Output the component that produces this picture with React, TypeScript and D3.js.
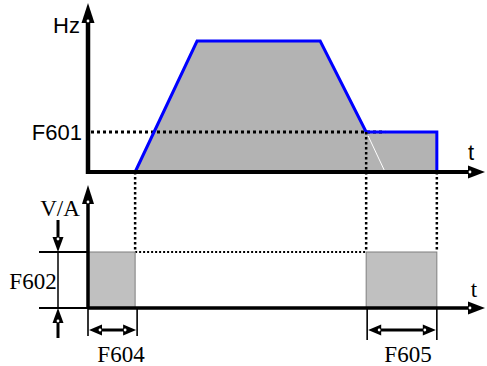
import React from "react";
import * as d3 from "d3";

// ---- data ----
const profileT = [12.4, 28.7, 61.1, 73.2, 91.8, 91.8];
const profileF = [0, 50, 50, 15.3, 15.3, 0];
const F601 = 15.3;
const brakeStart = [0, 73.2];
const brakeEnd = [12.4, 91.8];
const brakeLevel = [1, 1];
const brakeNames = ["F604", "F605"];
const topLabels = { y: "Hz", x: "t", level: "F601" };
const bottomLabels = { y: "V/A", x: "t", level: "F602" };

const W = 487;
const H = 366;

const x = d3.scaleLinear().domain([0, 100]).range([88, 468]);
const yTop = d3.scaleLinear().domain([0, 50]).range([172, 41]);
const yBot = d3.scaleLinear().domain([0, 1]).range([308, 252]);

const sans = "'Liberation Sans', Arial, sans-serif";
const serif = "'Liberation Serif', 'Times New Roman', serif";

function ArrowHead({ tx, ty, dir, len = 17, half = 6.5 }: { tx: number; ty: number; dir: "up" | "down" | "left" | "right"; len?: number; half?: number }) {
  let pts: [number, number][] = [];
  let dot: [number, number] = [tx, ty];
  if (dir === "right") { pts = [[tx, ty], [tx - len, ty - half], [tx - len, ty + half]]; dot = [tx - len + 2, ty]; }
  if (dir === "left") { pts = [[tx, ty], [tx + len, ty - half], [tx + len, ty + half]]; dot = [tx + len - 2, ty]; }
  if (dir === "up") { pts = [[tx, ty], [tx - half, ty + len], [tx + half, ty + len]]; dot = [tx, ty + len - 2]; }
  if (dir === "down") { pts = [[tx, ty], [tx - half, ty - len], [tx + half, ty - len]]; dot = [tx, ty - len + 2]; }
  return (
    <g>
      <polygon points={pts.map((p) => p.join(",")).join(" ")} fill="#000" />
      <circle cx={dot[0]} cy={dot[1]} r={1.4} fill="#fff" />
    </g>
  );
}

export default function App() {
  const pts = profileT.map((t, i) => [t, profileF[i]] as [number, number]);
  const area = d3.area<[number, number]>().x((d) => x(d[0])).y0(yTop(0)).y1((d) => yTop(d[1]));
  const line = d3.line<[number, number]>().x((d) => x(d[0])).y((d) => yTop(d[1]));
  const y0 = yTop(0);
  const yF = yTop(F601);
  const b0 = yBot(0);
  const b1 = yBot(1);
  const x0 = x(0);
  const xRun = x(profileT[0]);
  const xBrake = x(profileT[3]);
  const xStop = x(profileT[4]);

  return (
    <svg width={W} height={H} style={{ position: "absolute", left: 0, top: 0, background: "#fff" }}>
      {/* top chart fill */}
      <path d={area(pts) || ""} fill="#b3b3b3" />
      {/* faint white diagonal artifact */}
      <line x1={xBrake + 2} y1={yF + 4} x2={xBrake + 18} y2={y0 - 2} stroke="#fff" strokeWidth={1} />
      {/* F601 dotted */}
      <line x1={x0 + 3} y1={yF} x2={xBrake + 19} y2={yF} stroke="#000" strokeWidth={3} strokeDasharray="3 3" />
      {/* profile line */}
      <path d={line(pts) || ""} fill="none" stroke="#0000ff" strokeWidth={3} strokeLinejoin="miter" />

      {/* vertical dotted connectors */}
      <line x1={xRun} y1={y0} x2={xRun} y2={b1} stroke="#000" strokeWidth={2.5} strokeDasharray="2.5 2.5" />
      <line x1={xBrake} y1={yF} x2={xBrake} y2={b1} stroke="#000" strokeWidth={2.5} strokeDasharray="2.5 2.5" />
      <line x1={xStop} y1={y0} x2={xStop} y2={b1} stroke="#000" strokeWidth={2.5} strokeDasharray="2.5 2.5" />
      <line x1={xRun} y1={b1} x2={xBrake} y2={b1} stroke="#000" strokeWidth={2} strokeDasharray="2 2" />

      {/* top axes */}
      <line x1={x0} y1={y0 + 2} x2={x0} y2={20} stroke="#000" strokeWidth={4.5} />
      <ArrowHead tx={x0} ty={3} dir="up" len={20} half={6.5} />
      <line x1={x0 - 2} y1={y0} x2={470} y2={y0} stroke="#000" strokeWidth={4} />
      <ArrowHead tx={485} ty={y0} dir="right" len={17} half={6.5} />
      <text x={80} y={33} fontFamily={sans} fontSize={22} textAnchor="end">{topLabels.y}</text>
      <text x={82} y={140} fontFamily={sans} fontSize={22} textAnchor="end">{topLabels.level}</text>
      <text x={471} y={160} fontFamily={sans} fontSize={22} textAnchor="middle">{topLabels.x}</text>

      {/* bottom rects */}
      {brakeStart.map((s, i) => (
        <rect key={i} x={x(s)} y={yBot(brakeLevel[i])} width={x(brakeEnd[i]) - x(s)} height={b0 - yBot(brakeLevel[i])} fill="#c0c0c0" stroke="#7f7f7f" strokeWidth={1} />
      ))}

      {/* bottom axes */}
      <line x1={x0} y1={b0 + 1} x2={x0} y2={200} stroke="#000" strokeWidth={3.5} />
      <ArrowHead tx={x0} ty={185} dir="up" len={19} half={6} />
      <line x1={x0} y1={b0} x2={470} y2={b0} stroke="#000" strokeWidth={3.5} />
      <ArrowHead tx={485} ty={b0} dir="right" len={17} half={6.5} />
      <text x={60} y={216} fontFamily={serif} fontSize={23} textAnchor="middle">{bottomLabels.y}</text>
      <text x={474} y={297} fontFamily={serif} fontSize={23} textAnchor="middle">{bottomLabels.x}</text>

      {/* F602 dimension */}
      <line x1={39} y1={b1} x2={x0} y2={b1} stroke="#000" strokeWidth={1.8} />
      <line x1={39} y1={b0} x2={x0} y2={b0} stroke="#000" strokeWidth={1.8} />
      <line x1={58} y1={b1} x2={58} y2={b0} stroke="#000" strokeWidth={1.5} />
      <line x1={58} y1={220} x2={58} y2={b1 - 12} stroke="#000" strokeWidth={3} />
      <ArrowHead tx={58} ty={b1} dir="down" len={15} half={5.5} />
      <line x1={58} y1={b0 + 12} x2={58} y2={338} stroke="#000" strokeWidth={3} />
      <ArrowHead tx={58} ty={b0} dir="up" len={15} half={5.5} />
      <text x={33} y={289} fontFamily={serif} fontSize={23} textAnchor="middle">{bottomLabels.level}</text>

      {/* F604 / F605 dimensions */}
      {brakeStart.map((s, i) => {
        const xa = x(s) + (i === 0 ? 0 : 1);
        const xb = x(brakeEnd[i]) + (i === 0 ? 2 : 0);
        const ya = 330;
        return (
          <g key={"d" + i}>
            <line x1={xa} y1={b0} x2={xa} y2={i === 0 ? 336 : 340} stroke="#000" strokeWidth={1.6} />
            <line x1={xb} y1={b0} x2={xb} y2={i === 0 ? 336 : 340} stroke="#000" strokeWidth={1.6} />
            <line x1={xa + 10} y1={ya} x2={xb - 10} y2={ya} stroke="#000" strokeWidth={3} />
            <ArrowHead tx={xa + 1} ty={ya} dir="left" len={13} half={5.5} />
            <ArrowHead tx={xb - 1} ty={ya} dir="right" len={13} half={5.5} />
            <text x={i === 0 ? 121 : 408} y={362} fontFamily={serif} fontSize={23} textAnchor="middle">{brakeNames[i]}</text>
          </g>
        );
      })}
    </svg>
  );
}
